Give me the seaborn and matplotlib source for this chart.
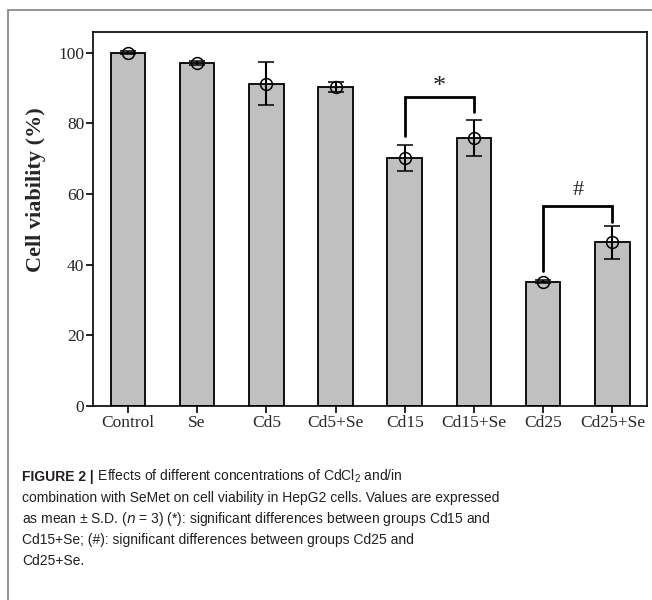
import matplotlib
matplotlib.use("Agg")
from matplotlib import pyplot as plt
from matplotlib import font_manager
from matplotlib.patches import Rectangle
import numpy as np
import pandas as pd
import seaborn as sns

# values
groups = ["Control", "Se", "Cd5", "Cd5+Se", "Cd15", "Cd15+Se", "Cd25", "Cd25+Se"]
viability = [100.0, 97.2, 91.3, 90.3, 70.2, 75.9, 35.2, 46.3]
sd = [0.4, 0.6, 6.1, 1.3, 3.6, 5.1, 0.4, 4.6]
yticks = [0, 20, 40, 60, 80, 100]

# significance brackets: (left group, right group, top, left leg end, right leg end, label, label y)
brackets = [("Cd15", "Cd15+Se", 87.6, 76.4, 83.1, "*", 90.3),
            ("Cd25", "Cd25+Se", 56.6, 38.2, 52.1, "#", 60.9)]

caption_first = " Effects of different concentrations of CdCl$_\\mathregular{2}$ and/in"
caption_rest = ["combination with SeMet on cell viability in HepG2 cells. Values are expressed",
                "as mean \u00b1 S.D. ($\\mathit{n}$ = 3) (*): significant differences between groups Cd15 and",
                "Cd15+Se; (#): significant differences between groups Cd25 and",
                "Cd25+Se."]

sns.set_style("ticks")
plt.rcParams['font.family'] = ['Liberation Serif', 'DejaVu Serif']

names = {f.name for f in font_manager.fontManager.ttflist}
cap_font = 'Liberation Sans Narrow' if 'Liberation Sans Narrow' in names else 'Liberation Sans'
cap_size = 12 if cap_font == 'Liberation Sans Narrow' else 10

df = pd.DataFrame({"group": groups, "viability": viability, "sd": sd})

fig = plt.figure(figsize=(6.52, 6.0), dpi=100)
ax = fig.add_axes([0.1431, 0.3238, 0.8492, 0.6234])

sns.barplot(data=df, x="group", y="viability", color="#c0c0c0", saturation=1,
            edgecolor="black", linewidth=1.3, width=0.5, errorbar=None, ax=ax)

pos = np.arange(len(groups))
ax.errorbar(pos, df["viability"], yerr=df["sd"], fmt="o", color="black",
            mfc="none", mec="black", ms=8.5, mew=1.1, elinewidth=1.5,
            capsize=6, capthick=1.5, zorder=5)

for g1, g2, top, l1, l2, lab, ly in brackets:
    x1 = groups.index(g1)
    x2 = groups.index(g2)
    ax.plot([x1, x1, x2, x2], [l1, top, top, l2], color="black", lw=2, solid_joinstyle="miter")
    ax.text((x1 + x2) / 2, ly, lab, ha="center", va="center", fontsize=19 if lab == "*" else 16)

ax.set_xlim(-0.5, 7.5)
ax.set_ylim(0, 106)
ax.set_yticks(yticks)
ax.set_xlabel("")
ax.set_ylabel("Cell viability (%)", fontsize=16, fontweight="bold")
ax.yaxis.set_label_coords(-0.086, 0.577)
ax.tick_params(axis="both", labelsize=12.5, length=5, width=1.2, color="black", pad=1.5)
for s in ax.spines.values():
    s.set_linewidth(1.2)
    s.set_color("black")

# outer frame of the figure panel
fig.patches.append(Rectangle((8 / 652, -0.1), 1.2, 1 - 10 / 600 + 0.1, transform=fig.transFigure,
                             fill=False, edgecolor="#808080", lw=1.2))

# caption
x0 = 22 / 652
line_y = [476.7, 498, 519, 540, 561]
t1 = fig.text(x0, 1 - line_y[0] / 600, "FIGURE 2 |", fontsize=cap_size, fontweight="bold",
              family=cap_font, va="center", color="#231f20")
fig.canvas.draw()
bb = t1.get_window_extent()
fig.text(bb.x1 / fig.bbox.width, 1 - line_y[0] / 600, caption_first, fontsize=cap_size,
         family=cap_font, va="center", color="#231f20")
for yy, line in zip(line_y[1:], caption_rest):
    fig.text(x0, 1 - yy / 600, line, fontsize=cap_size, family=cap_font, va="center", color="#231f20")

fig.savefig("out.png", dpi=100)
